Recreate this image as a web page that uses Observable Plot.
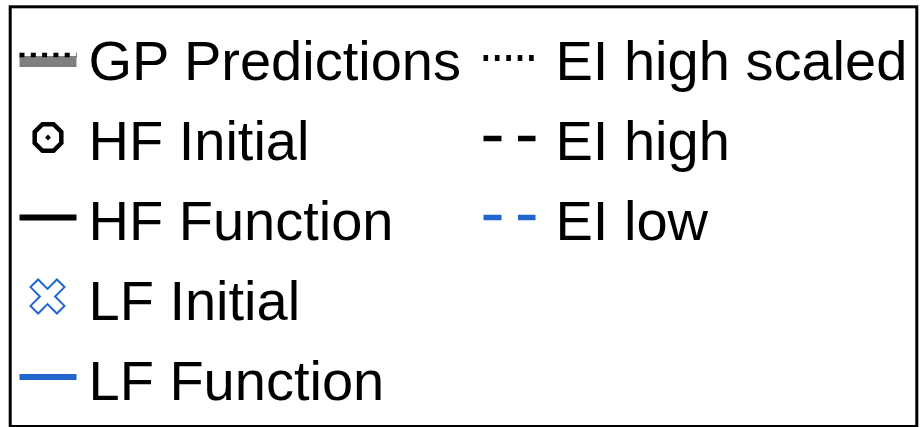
<!DOCTYPE html>
<html>
<head>
<meta charset="utf-8">
<script src="https://cdn.jsdelivr.net/npm/d3@7"></script>
<script src="https://cdn.jsdelivr.net/npm/@observablehq/plot@0.6"></script>
<style>
  html, body { margin: 0; padding: 0; background: #fff; }
  #chart svg { display: block; }
</style>
</head>
<body>
<div id="chart"></div>
<script>
// Legend entries, one array per column
const leftLabels = ["GP Predictions", "HF Initial", "HF Function", "LF Initial", "LF Function"];
const rightLabels = ["EI high scaled", "EI high", "EI low"];

const BLUE = "#2166cc";

// Column layout: swatch start, swatch width, text start
const columns = [
  {x0: 19, w: 57, tx: 88},
  {x0: 483, w: 52, tx: 555}
];

const entries = [
  ...leftLabels.map((label, row) => ({label, row, c: 0})),
  ...rightLabels.map((label, row) => ({label, row, c: 1}))
];
const entry = (label) => [entries.find((e) => e.label === label)];

// Octagon outline (marker for HF Initial)
const octagon = {
  draw(ctx, size) {
    const R = Math.sqrt(size / Math.PI);
    for (let k = 0; k < 8; ++k) {
      const a = Math.PI / 8 + k * Math.PI / 4;
      const x = R * Math.cos(a), y = R * Math.sin(a);
      k ? ctx.lineTo(x, y) : ctx.moveTo(x, y);
    }
    ctx.closePath();
  }
};

// Thick "X" outline (marker for LF Initial)
const crossX = {
  draw(ctx, size) {
    const s = Math.sqrt(size / Math.PI) * Math.SQRT2;
    const a = 0.224 * s, L = s - a;
    const pts = [[a, a], [a, L], [-a, L], [-a, a], [-L, a], [-L, -a], [-a, -a], [-a, -L], [a, -L], [a, -a], [L, -a], [L, a]];
    const c = Math.SQRT1_2;
    pts.forEach(([x, y], i) => {
      const rx = c * (x - y), ry = c * (x + y);
      i ? ctx.lineTo(rx, ry) : ctx.moveTo(rx, ry);
    });
    ctx.closePath();
  }
};

// Line swatches
const swatch = (label, opts) => Plot.link(entry(label), {
  x1: (d) => columns[d.c].x0,
  x2: (d) => columns[d.c].x0 + columns[d.c].w,
  y1: "row",
  y2: "row",
  strokeLinecap: "butt",
  ...opts
});

const chart = Plot.plot({
  width: 920,
  height: 427,
  marginLeft: 9.7,
  marginTop: 6.3,
  marginRight: 3.7,
  marginBottom: 1,
  style: {background: "#fff", fontFamily: "'Liberation Sans', Arial, Helvetica, sans-serif"},
  x: {domain: [0, 920], range: [0, 920], axis: null},
  y: {type: "point", domain: d3.range(5), range: [60, 380], padding: 0, axis: null},
  marks: [
    swatch("GP Predictions", {stroke: "#808080", strokeWidth: 11, dy: 1}),
    swatch("GP Predictions", {stroke: "#000", strokeWidth: 4.5, strokeDasharray: "5,6.3", dy: -5.5}),
    swatch("HF Function", {stroke: "#000", strokeWidth: 6, dy: -3}),
    swatch("LF Function", {stroke: BLUE, strokeWidth: 6, dy: -3.5}),
    swatch("EI high scaled", {stroke: "#000", strokeWidth: 6, strokeDasharray: "4.6,6.8", dy: -2.5}),
    swatch("EI high", {stroke: "#000", strokeWidth: 5.5, strokeDasharray: "18,16.5", dy: -2}),
    swatch("EI low", {stroke: BLUE, strokeWidth: 5.5, strokeDasharray: "18,16.5", dy: -3}),
    Plot.dot(entry("HF Initial"), {
      x: (d) => columns[d.c].x0 + 28.5, y: "row", dy: -3,
      symbol: octagon, r: 14.4, fill: "#fff", stroke: "#000", strokeWidth: 4.5
    }),
    Plot.dot(entry("HF Initial"), {
      x: (d) => columns[d.c].x0 + 28.5, y: "row", dy: -3,
      symbol: "diamond2", r: 2.6, fill: "#000", stroke: "none"
    }),
    Plot.dot(entry("LF Initial"), {
      x: (d) => columns[d.c].x0 + 28, y: "row", dy: -4,
      symbol: crossX, r: 17, fill: "#fff", stroke: BLUE, strokeWidth: 2
    }),
    Plot.text(entries, {
      x: (d) => columns[d.c].tx,
      y: "row",
      dy: 2,
      text: "label",
      textAnchor: "start",
      lineAnchor: "middle",
      fontSize: 56,
      fill: "#000"
    }),
    Plot.frame({stroke: "#000", strokeWidth: 3})
  ]
});

document.getElementById("chart").append(chart);
</script>
</body>
</html>
